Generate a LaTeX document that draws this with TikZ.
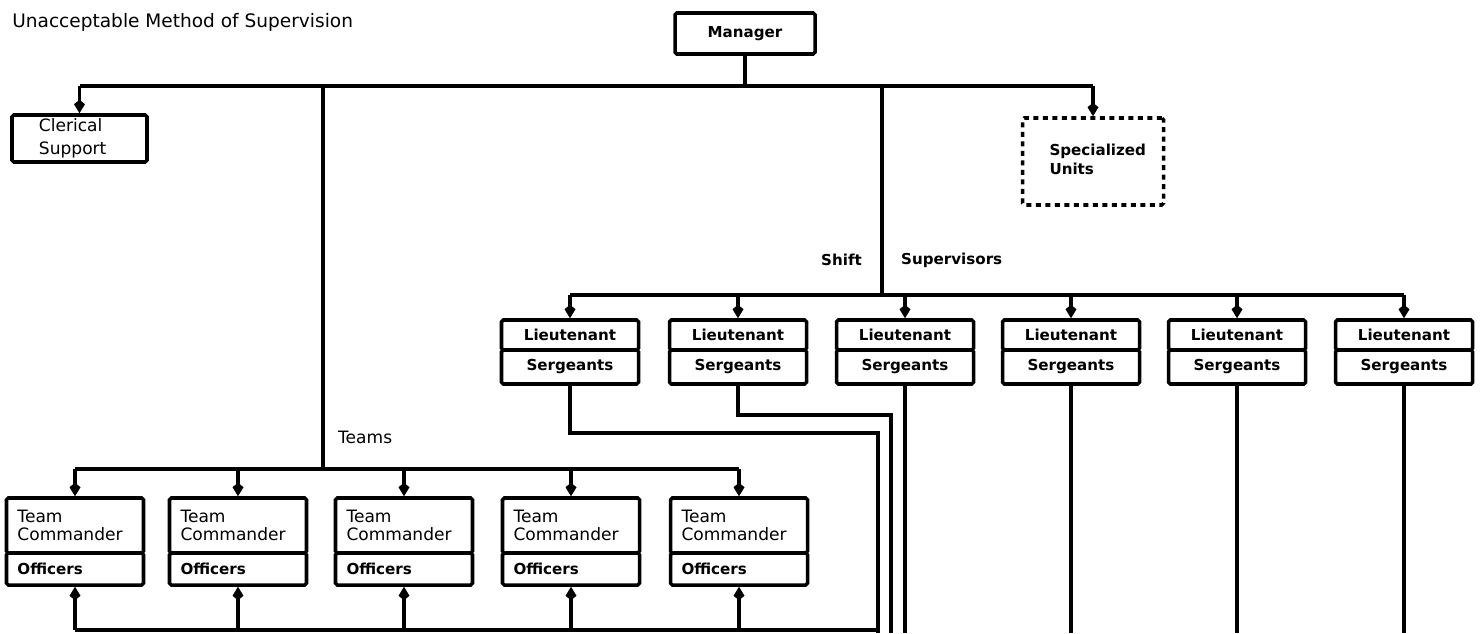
\documentclass[tikz,border=0pt]{standalone}
\usepackage{fontspec}
\setmainfont{DejaVu Sans}
\usepackage{tikz}
\usetikzlibrary{arrows.meta}
\newcommand{\orgtext}{\fontsize{9.7}{10}\selectfont}
\newcommand{\orgbold}{\fontsize{8.6}{10.8}\selectfont\bfseries}
\newcommand{\orgstack}[2]{\raisebox{#1}{\begin{tabular}{@{}l@{}}#2\end{tabular}}}
\tikzset{
  wire/.style={black, line width=2pt},
  feed/.style={wire, -{Kite[length=2.7mm,width=2.2mm,inset=0.9mm]}},
  unit/.style={draw=black, line width=2pt, rounded corners=1pt,
               inner sep=0pt, align=center, font=\orgbold},
  sideunit/.style={unit, align=left, inner xsep=0.54cm},
  lthead/.style={unit, minimum width=2.74cm, minimum height=0.60cm},
  ltfoot/.style={unit, minimum width=2.74cm, minimum height=0.68cm},
  teamhead/.style={unit, font=\orgtext, align=left, text width=2.30cm,
                   inner xsep=0.22cm, minimum height=1.10cm},
  teamfoot/.style={unit, align=left, text width=2.30cm,
                   inner xsep=0.22cm, minimum height=0.64cm},
  lab/.style={font=\orgbold},
}

\begin{document}
\begin{tikzpicture}[x=1cm,y=1cm]
  \path[use as bounding box] (0,0) rectangle (29.62,12.66);

  \node[font=\fontsize{10.55}{12}\selectfont, anchor=west, inner sep=0pt] (title) at (0.24,12.22)
    {Unacceptable Method of Supervision};

  % top level
  \node[unit, minimum width=2.8cm, minimum height=0.82cm] (mgr) at (14.9,11.99) {Manager};
  \node[sideunit, font=\fontsize{9.7}{13}\selectfont, text width=1.62cm, minimum height=0.94cm] (clerk) at (1.59,9.89)
    {\orgstack{-0.1cm}{Clerical\\Support}};
  \node[sideunit, dash pattern=on 1mm off 0.9mm, text width=1.74cm, minimum height=1.74cm] (spec) at (21.86,9.43)
    {\orgstack{0.14cm}{Specialized\\Units}};

  \coordinate (topbar) at (14.9,10.94);
  \coordinate (teamsbar) at (6.46,3.28);
  \coordinate (shiftbar) at (17.64,6.76);
  \coordinate (cut) at (0,0);
  \coordinate (baseline) at (0,0.06);
  \coordinate (lane1) at (17.56,4.00);
  \coordinate (lane2) at (17.82,4.36);

  \draw[wire] (mgr.south) -- (mgr.south |- topbar);
  \draw[wire] (clerk.north |- topbar) -- (spec.north |- topbar);
  \draw[feed] (clerk.north |- topbar) -- (clerk.north);
  \draw[feed] (spec.north |- topbar) -- (spec.north);

  % shift supervisors
  \draw[wire] (shiftbar |- topbar) -- (shiftbar);
  \node[lab, anchor=east] (shift) at (17.36,7.46) {Shift};
  \node[lab, anchor=west] (supv) at (17.90,7.46) {Supervisors};

  \node[lthead] (lt1) at (11.40,5.96) {Lieutenant};
  \node[ltfoot] (sg1) at (11.40,5.32) {Sergeants};
  \node[lthead] (lt2) at (14.76,5.96) {Lieutenant};
  \node[ltfoot] (sg2) at (14.76,5.32) {Sergeants};
  \node[lthead] (lt3) at (18.10,5.96) {Lieutenant};
  \node[ltfoot] (sg3) at (18.10,5.32) {Sergeants};
  \node[lthead] (lt4) at (21.42,5.96) {Lieutenant};
  \node[ltfoot] (sg4) at (21.42,5.32) {Sergeants};
  \node[lthead] (lt5) at (24.74,5.96) {Lieutenant};
  \node[ltfoot] (sg5) at (24.74,5.32) {Sergeants};
  \node[lthead] (lt6) at (28.08,5.96) {Lieutenant};
  \node[ltfoot] (sg6) at (28.08,5.32) {Sergeants};

  \draw[wire] (lt1.north |- shiftbar) -- (lt6.north |- shiftbar);
  \draw[feed] (lt1.north |- shiftbar) -- (lt1.north);
  \draw[feed] (lt2.north |- shiftbar) -- (lt2.north);
  \draw[feed] (lt3.north |- shiftbar) -- (lt3.north);
  \draw[feed] (lt4.north |- shiftbar) -- (lt4.north);
  \draw[feed] (lt5.north |- shiftbar) -- (lt5.north);
  \draw[feed] (lt6.north |- shiftbar) -- (lt6.north);

  \draw[wire] (sg1.south) |- (lane1) -- (lane1 |- cut);
  \draw[wire] (sg2.south) |- (lane2) -- (lane2 |- cut);
  \draw[wire] (sg3.south) -- (sg3.south |- cut);
  \draw[wire] (sg4.south) -- (sg4.south |- cut);
  \draw[wire] (sg5.south) -- (sg5.south |- cut);
  \draw[wire] (sg6.south) -- (sg6.south |- cut);

  % teams
  \draw[wire] (teamsbar |- topbar) -- (teamsbar);
  \node[font=\orgtext, anchor=west] (teams) at (6.64,3.92) {Teams};

  \node[teamhead] (tc1) at (1.50,2.15) {Team\\Commander};
  \node[teamfoot] (of1) at (1.50,1.28) {Officers};
  \node[teamhead] (tc2) at (4.76,2.15) {Team\\Commander};
  \node[teamfoot] (of2) at (4.76,1.28) {Officers};
  \node[teamhead] (tc3) at (8.08,2.15) {Team\\Commander};
  \node[teamfoot] (of3) at (8.08,1.28) {Officers};
  \node[teamhead] (tc4) at (11.42,2.15) {Team\\Commander};
  \node[teamfoot] (of4) at (11.42,1.28) {Officers};
  \node[teamhead] (tc5) at (14.78,2.15) {Team\\Commander};
  \node[teamfoot] (of5) at (14.78,1.28) {Officers};

  \draw[wire] (tc1.north |- teamsbar) -- (tc5.north |- teamsbar);
  \draw[feed] (tc1.north |- teamsbar) -- (tc1.north);
  \draw[feed] (tc2.north |- teamsbar) -- (tc2.north);
  \draw[feed] (tc3.north |- teamsbar) -- (tc3.north);
  \draw[feed] (tc4.north |- teamsbar) -- (tc4.north);
  \draw[feed] (tc5.north |- teamsbar) -- (tc5.north);

  \draw[wire] (of1.south |- baseline) -- (lane1 |- baseline);
  \draw[feed] (of1.south |- baseline) -- (of1.south);
  \draw[feed] (of2.south |- baseline) -- (of2.south);
  \draw[feed] (of3.south |- baseline) -- (of3.south);
  \draw[feed] (of4.south |- baseline) -- (of4.south);
  \draw[feed] (of5.south |- baseline) -- (of5.south);
\end{tikzpicture}
\end{document}
